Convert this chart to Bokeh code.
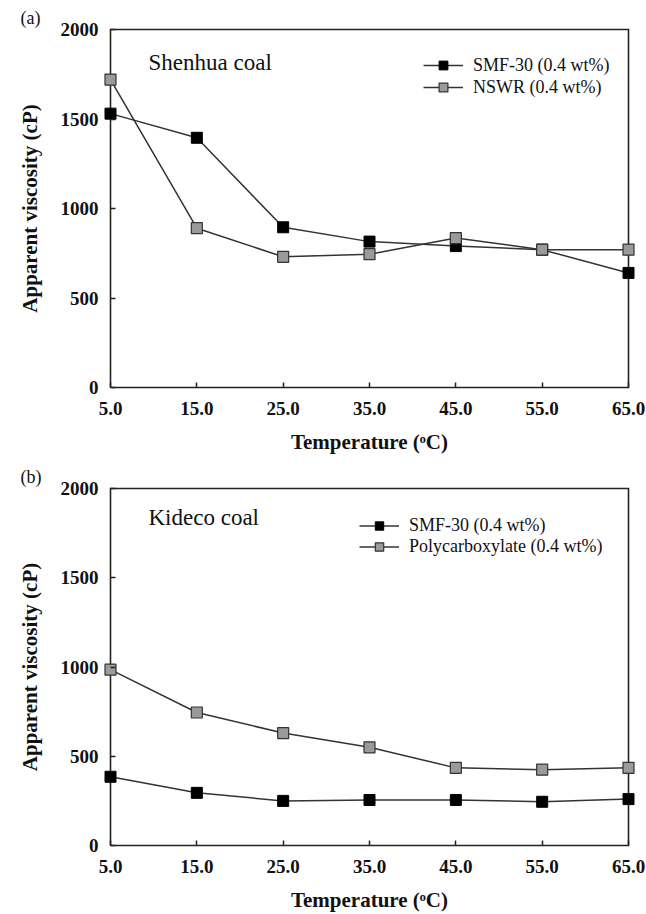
from bokeh.plotting import figure
from bokeh.layouts import column
from bokeh.models import (FixedTicker, NumeralTickFormatter, Legend, LegendItem,
                          Label, Range1d)
from bokeh.embed import file_html
from bokeh.resources import INLINE

# ---------------- data ----------------
temps = [5.0, 15.0, 25.0, 35.0, 45.0, 55.0, 65.0]
x_ticks = [5, 15, 25, 35, 45, 55, 65]
y_ticks = [0, 500, 1000, 1500, 2000]
x_lim = [5, 65]
y_lim = [0, 2000]

# panel (a) Shenhua coal
shenhua_smf30 = [1530, 1395, 895, 815, 790, 770, 640]
shenhua_nswr = [1720, 890, 730, 745, 835, 770, 770]

# panel (b) Kideco coal
kideco_smf30 = [385, 295, 250, 255, 255, 245, 260]
kideco_poly = [985, 745, 630, 550, 435, 425, 435]

SERIF = "Liberation Serif"
LINE_C = "#333333"
AX_C = "#222222"
GRAY = "#9a9a9a"

# pixel geometry of the data box (5..65 x 0..2000)
BOX_W, BOX_H = 518, 358
PAD_X, PAD_Y = 7, 2          # extra frame room so edge markers are not clipped


def make_panel(tag, coal, s1, s1_name, s2, s2_name, fig_h, leg_loc, row_h,
               coal_y):
    xpad = PAD_X / BOX_W * (x_lim[1] - x_lim[0])
    ypad = PAD_Y / BOX_H * (y_lim[1] - y_lim[0])
    top = 29 - PAD_Y
    bottom = fig_h - 29 - BOX_H - PAD_Y
    p = figure(width=646, height=fig_h, output_backend="svg", toolbar_location=None,
               x_range=Range1d(x_lim[0] - xpad, x_lim[1] + xpad),
               y_range=Range1d(y_lim[0] - ypad, y_lim[1] + ypad),
               min_border_left=110 - PAD_X, min_border_right=646 - 628 - PAD_X,
               min_border_top=top, min_border_bottom=bottom)
    p.grid.visible = False
    p.background_fill_color = "white"
    p.border_fill_color = "white"
    p.outline_line_color = None

    # panel tag "(a)" / "(b)" as a left-aligned title pulled left of the frame
    p.title.text = tag
    p.title.align = "left"
    p.title.offset = -83
    p.title.standoff = 0
    p.title.text_font = SERIF
    p.title.text_font_style = "normal"
    p.title.text_font_size = "18px"
    p.title.text_color = "#111111"

    for ax, pad in ((p.xaxis[0], PAD_Y), (p.yaxis[0], PAD_X)):
        ax.axis_line_color = None
        ax.major_tick_in = 5 + pad
        ax.major_tick_out = -pad
        ax.major_tick_line_color = AX_C
        ax.major_tick_line_width = 1.5
        ax.minor_tick_line_color = None
        ax.major_label_text_font = SERIF
        ax.major_label_text_font_style = "bold"
        ax.major_label_text_font_size = "19px"
        ax.major_label_text_color = "#111111"
        ax.axis_label_text_font = SERIF
        ax.axis_label_text_font_style = "bold"
        ax.axis_label_text_font_size = "21px"
        ax.axis_label_text_color = "#111111"

    p.xaxis.ticker = FixedTicker(ticks=x_ticks)
    p.xaxis.formatter = NumeralTickFormatter(format="0.0")
    p.yaxis.ticker = FixedTicker(ticks=y_ticks)
    p.xaxis.axis_label = "Temperature (ᵒC)"
    p.yaxis.axis_label = "Apparent viscosity (cP)"
    p.xaxis.major_label_standoff = 12
    p.xaxis.axis_label_standoff = 12
    p.yaxis.major_label_standoff = 5
    p.yaxis.axis_label_standoff = 16

    # plot box drawn at the axis limits
    p.line([x_lim[0], x_lim[1], x_lim[1], x_lim[0], x_lim[0]],
           [y_lim[0], y_lim[0], y_lim[1], y_lim[1], y_lim[0]],
           line_color=AX_C, line_width=1.6, line_join="miter")

    l1 = p.line(temps, s1, line_color=LINE_C, line_width=1.5)
    m1 = p.scatter(temps, s1, marker="square", size=11, fill_color="black",
                   line_color="black", line_width=1)
    l2 = p.line(temps, s2, line_color=LINE_C, line_width=1.5)
    m2 = p.scatter(temps, s2, marker="square", size=11, fill_color=GRAY,
                   line_color="#333333", line_width=1.2)

    legend = Legend(items=[LegendItem(label=s1_name, renderers=[l1, m1]),
                           LegendItem(label=s2_name, renderers=[l2, m2])],
                    location=leg_loc, padding=0, margin=0, spacing=0,
                    glyph_width=40, glyph_height=row_h, label_height=row_h,
                    label_standoff=10, border_line_alpha=0,
                    background_fill_alpha=0, label_text_font=SERIF,
                    label_text_font_size="18px", label_text_color="#111111")
    p.add_layout(legend)

    px_x = BOX_W / (x_lim[1] - x_lim[0])
    p.add_layout(Label(x=x_lim[0] + 38 / px_x, y=coal_y, text=coal, text_font=SERIF,
                       text_font_size="23px", text_baseline="middle",
                       text_color="#111111"))
    return p


pa = make_panel("(a)", "Shenhua coal", shenhua_smf30, "SMF-30 (0.4 wt%)",
                shenhua_nswr, "NSWR (0.4 wt%)", 459, (320, 291), 22, 1816)
pb = make_panel("(b)", "Kideco coal", kideco_smf30, "SMF-30 (0.4 wt%)",
                kideco_poly, "Polycarboxylate (0.4 wt%)", 455, (256, 290), 21, 1838)

layout = column(pa, pb, spacing=0)
open("out.html", "w").write(file_html(layout, INLINE))
